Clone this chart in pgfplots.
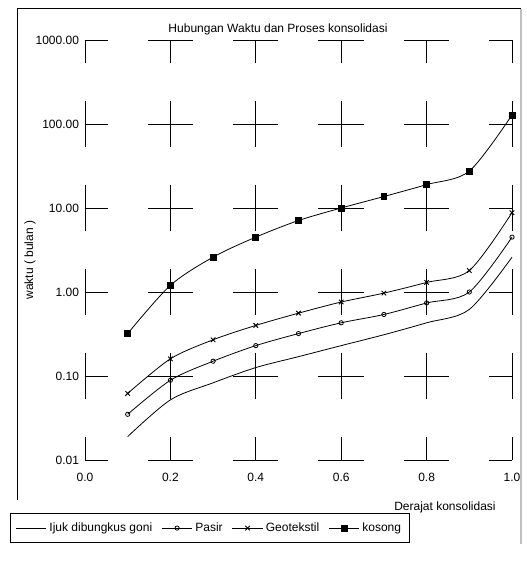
\documentclass[border=0pt]{standalone}
\usepackage{fontspec}
\setmainfont{Liberation Sans}
\usepackage{pgfplots}
\pgfplotsset{compat=1.18}
\begin{document}
\begin{tikzpicture}[font=\fontsize{9}{10.8}\selectfont]
\path[use as bounding box] (-63.75pt,-75.75pt) rectangle (330.75pt,345pt);
\begin{axis}[
  scale only axis,
  width=320.25pt, height=315pt,
  xmin=0, xmax=1,
  ymode=log, ymin=0.01, ymax=1000,
  xtick={0,0.2,0.4,0.6,0.8,1.0},
  xticklabels={0.0,0.2,0.4,0.6,0.8,1.0},
  ytick={0.01,0.1,1,10,100,1000},
  yticklabels={0.01,0.10,1.00,10.00,100.00,1000.00},
  major tick length=0pt, minor tick length=0pt,
  xticklabel style={yshift=-6pt},
  yticklabel style={xshift=-1pt},
  axis line style={draw=none},
  grid=major,
  major x grid style={black, line width=0.7pt, dash pattern=on 34pt off 29pt, dash phase=17pt},
  major y grid style={black, line width=0.7pt, dash pattern=on 34pt off 30pt, dash phase=17pt},
  clip=false,
  every axis title shift=0pt,
  title={Hubungan Waktu dan Proses konsolidasi},
  title style={at={(axis description cs:0.452,1.025)}, anchor=center, yshift=0pt},
  xlabel={Derajat konsolidasi},
  xlabel style={at={(axis description cs:0.843,-0.114)}, anchor=center},
  ylabel={waktu ( bulan )},
  ylabel style={at={(axis description cs:-0.129,0.476)}, anchor=center, rotate=0},
  legend columns=-1,
  legend style={at={(axis description cs:-0.176,-0.126)}, anchor=north west,
    draw=black, line width=0.7pt, inner ysep=5pt, inner xsep=4pt,
    /tikz/every even column/.append style={column sep=5pt},
    font=\fontsize{9}{10.8}\selectfont},
  legend image code/.code={\draw[mark repeat=2,mark phase=2,#1] plot coordinates {(0cm,0cm) (0.4cm,0cm) (0.8cm,0cm)};},
]
\addplot[black, line width=0.6pt, smooth, tension=0.5, no markers] coordinates {
(0.1,0.019)(0.2,0.052)(0.3,0.083)(0.4,0.126)(0.5,0.17)(0.6,0.23)(0.7,0.31)(0.8,0.43)(0.9,0.62)(1.0,2.6)};
\addlegendentry{Ijuk dibungkus goni}
\addplot[black, line width=0.6pt, smooth, tension=0.5, mark=o, mark size=1.6pt, mark options={solid, line width=0.6pt}] coordinates {
(0.1,0.035)(0.2,0.089)(0.3,0.15)(0.4,0.23)(0.5,0.32)(0.6,0.43)(0.7,0.54)(0.8,0.74)(0.9,1.0)(1.0,4.5)};
\addlegendentry{Pasir}
\addplot[black, line width=0.6pt, smooth, tension=0.5, mark=x, mark size=2.4pt, mark options={solid, line width=0.7pt}] coordinates {
(0.1,0.062)(0.2,0.16)(0.3,0.27)(0.4,0.40)(0.5,0.56)(0.6,0.76)(0.7,0.97)(0.8,1.3)(0.9,1.8)(1.0,8.8)};
\addlegendentry{Geotekstil}
\addplot[black, line width=0.6pt, smooth, tension=0.5, mark=square*, mark size=2.2pt, mark options={solid}] coordinates {
(0.1,0.32)(0.2,1.2)(0.3,2.6)(0.4,4.5)(0.5,7.1)(0.6,10)(0.7,13.7)(0.8,19)(0.9,27.5)(1.0,128)};
\addlegendentry{kosong}
\draw[black, line width=0.8pt] (rel axis cs:-0.157,-0.095) -- (rel axis cs:-0.157,1.074) -- (rel axis cs:1.021,1.074);
\draw[gray!50, line width=1.2pt] (rel axis cs:1.021,1.074) -- (rel axis cs:1.021,-0.2);
\end{axis}
\end{tikzpicture}
\end{document}
